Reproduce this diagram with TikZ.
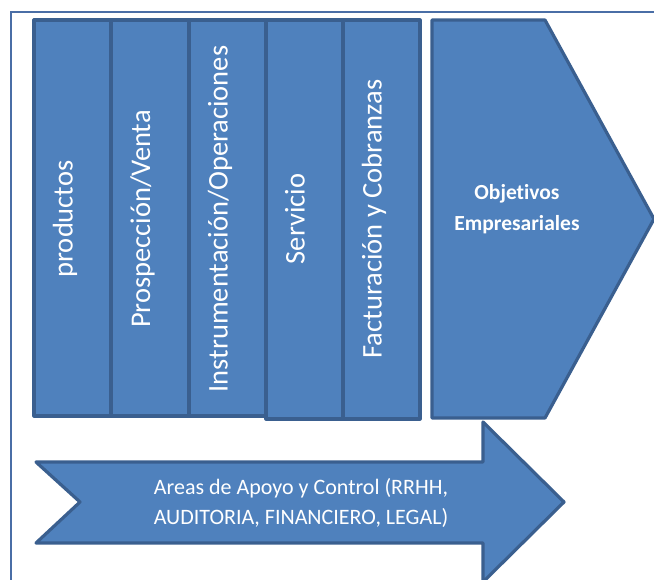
\documentclass[tikz,border=0pt]{standalone}
\usepackage{fontspec}
\setmainfont[Ligatures=NoCommon]{Carlito}
\definecolor{boxfill}{HTML}{4F81BD}
\definecolor{boxline}{HTML}{3A5F8F}
\definecolor{frameline}{HTML}{4A6EA6}
\tikzset{
  colbox/.style={draw=boxline, fill=boxfill, line width=3.2pt, line join=round, rectangle, inner sep=0pt},
  shapebox/.style={draw=boxline, fill=boxfill, line width=3.2pt, line join=round},
  coltext/.style={text=white, font=\fontsize{28.5}{32}\selectfont, rotate=90, anchor=base, inner sep=0pt},
  arrowtext/.style={text=white, font=\fontsize{22}{30}\selectfont, align=center, inner sep=0pt},
  goaltext/.style={text=white, font=\bfseries\fontsize{21.5}{31}\selectfont, align=center, inner sep=0pt},
  frame/.style={draw=frameline, line width=1.6pt}
}
\begin{document}
\begin{tikzpicture}[x=1pt, y=-1pt]
\useasboundingbox (0,0) rectangle (654,580);
\fill[white] (0,0) rectangle (654,580);
% frame
\draw[frame] (11,580) -- (11,12) -- (654,12);
% columns
\node[colbox, minimum width=77pt, minimum height=396pt] (c1) at (72.5,218) {};
\node[colbox, minimum width=78pt, minimum height=396pt] (c2) at (150,218) {};
\node[colbox, minimum width=77pt, minimum height=396pt] (c3) at (227.5,218) {};
\node[colbox, minimum width=77pt, minimum height=399pt] (c4) at (304.5,219.5) {};
\node[colbox, minimum width=77pt, minimum height=399pt] (c5) at (381.5,219.5) {};
\node[coltext] (t1) at (72.5,219) {productos};
\node[coltext] (t2) at (150,219) {Prospección/Venta};
\node[coltext] (t3) at (227.5,219) {Instrumentación/Operaciones};
\node[coltext] (t4) at (304.5,219) {Servicio};
\node[coltext] (t5) at (381.5,219) {Facturación y Cobranzas};
% chevron
\draw[shapebox] (432,20) -- (545,20) -- (654,219) -- (545,418) -- (432,418) -- cycle;
\node[goaltext] (goal) at (517,209) {Objetivos\\Empresariales};
% bottom arrow
\draw[shapebox] (36,462) -- (483,462) -- (483,422) -- (564,502) -- (483,582) -- (483,543) -- (36,543) -- (80,502) -- cycle;
\node[arrowtext] (areas) at (301,503) {Areas de Apoyo y Control (RRHH,\\AUDITORIA, FINANCIERO, LEGAL)};
\end{tikzpicture}
\end{document}
